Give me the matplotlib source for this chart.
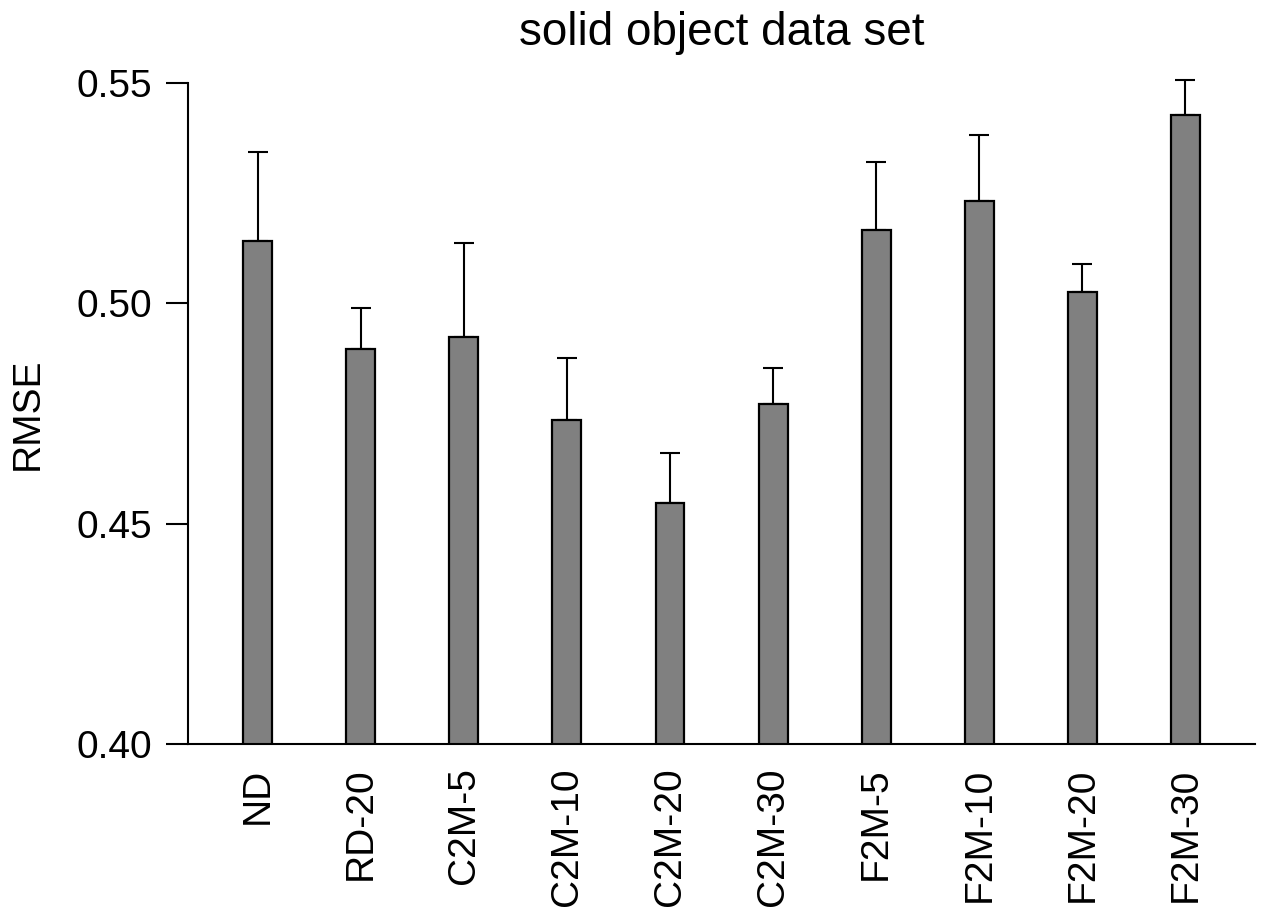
import matplotlib
matplotlib.use("Agg")
import matplotlib.pyplot as plt

methods = ["ND", "RD-20", "C2M-5", "C2M-10", "C2M-20", "C2M-30",
           "F2M-5", "F2M-10", "F2M-20", "F2M-30"]
rmse = [0.5141, 0.4896, 0.4924, 0.4735, 0.4547, 0.4772,
        0.5166, 0.5232, 0.5026, 0.5427]
rmse_err = [0.0202, 0.0093, 0.0213, 0.0141, 0.0113, 0.0081,
            0.0155, 0.0150, 0.0063, 0.0080]
yticks = [0.40, 0.45, 0.50, 0.55]

plt.rcParams["font.family"] = ["Liberation Sans", "DejaVu Sans"]

fig = plt.figure(figsize=(12.63, 9.07), dpi=100)
ax = fig.add_axes([0.1489, 0.1797, 0.8448, 0.7288])

x = list(range(len(methods)))
ax.bar(x, rmse, width=0.28, color="#808080", edgecolor="black",
       linewidth=1.6, zorder=2)
_, caps, bars = ax.errorbar(x, rmse, yerr=[[0] * len(rmse_err), rmse_err],
                            fmt="none", ecolor="black", elinewidth=1.5,
                            capsize=7, capthick=1.5, zorder=1)
for artist in list(caps) + list(bars):
    artist.set_clip_on(False)

ax.set_xlim(-0.675, 9.675)
ax.set_ylim(0.40, 0.55)
ax.set_yticks(yticks)
ax.set_yticklabels(["%.2f" % t for t in yticks])
ax.set_xticks(x)
ax.set_xticklabels(methods, rotation=90)

for side in ["top", "right"]:
    ax.spines[side].set_visible(False)
for side in ["left", "bottom"]:
    ax.spines[side].set_linewidth(1.5)

ax.tick_params(axis="y", length=16, width=1.5, pad=10, labelsize=28)
ax.tick_params(axis="x", length=0, pad=17, labelsize=28)

ax.set_ylabel("RMSE", fontsize=28, labelpad=22)
ax.text(0.5, 1.0575, "solid object data set", transform=ax.transAxes,
        ha="center", va="baseline", fontsize=33)

fig.savefig("out.png", dpi=100)
